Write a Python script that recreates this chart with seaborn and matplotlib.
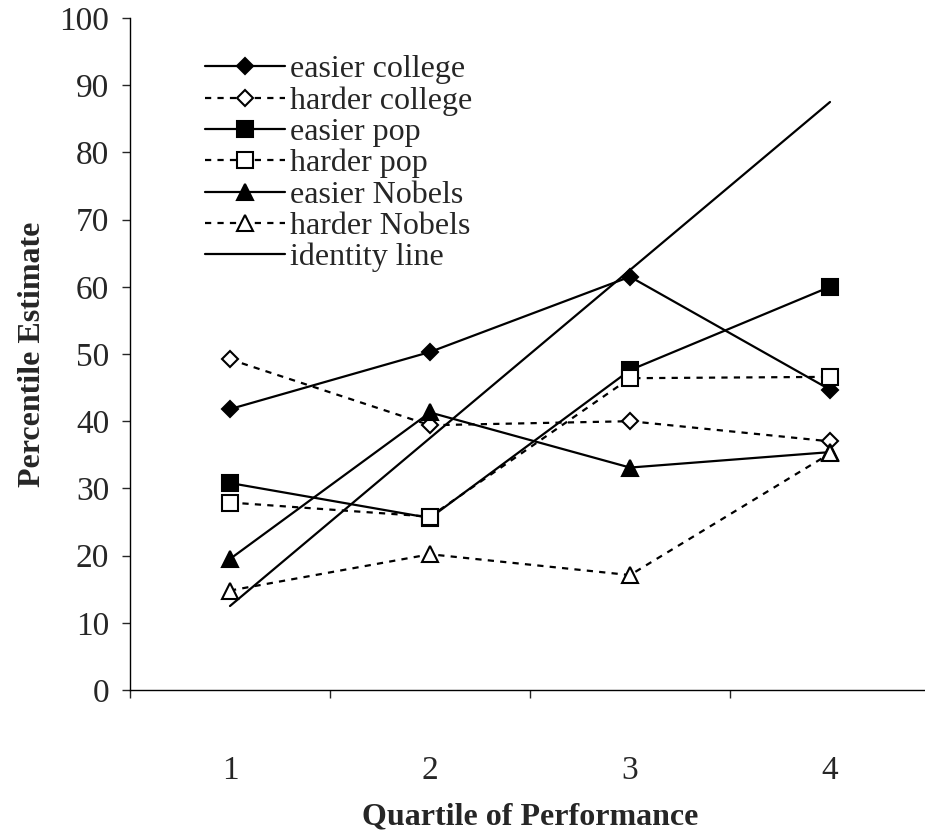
"""
Percentile estimate by quartile of performance - line chart
"""
import pandas as pd
import matplotlib.pyplot as plt
import seaborn as sns

# data
quartiles = [1, 2, 3, 4]
easier_college = [41.8, 50.3, 61.5, 44.7]
harder_college = [49.2, 39.4, 40.0, 37.0]
easier_pop = [30.8, 25.6, 47.6, 60.0]
harder_pop = [27.9, 25.8, 46.4, 46.6]
easier_nobels = [19.5, 41.3, 33.1, 35.4]
harder_nobels = [14.8, 20.2, 17.1, 35.2]
identity_line = [12.5, 37.5, 62.5, 87.5]

series = [
    ('easier college', easier_college),
    ('harder college', harder_college),
    ('easier pop', easier_pop),
    ('harder pop', harder_pop),
    ('easier Nobels', easier_nobels),
    ('harder Nobels', harder_nobels),
    ('identity line', identity_line),
]

sns.set_style('white')
plt.rcParams['font.family'] = ['Liberation Serif', 'DejaVu Serif']
plt.rcParams['font.size'] = 23

# style per series: (marker, markersize, filled, dashed)
styles = {
    'easier college': ('D', 8, True, False),
    'harder college': ('D', 8, False, True),
    'easier pop': ('s', 11, True, False),
    'harder pop': ('s', 11, False, True),
    'easier Nobels': ('^', 11, True, False),
    'harder Nobels': ('^', 11, False, True),
    'identity line': (None, 0, True, False),
}

fig = plt.figure(figsize=(9.25, 8.35), dpi=100)
ax = fig.add_axes([130 / 925, 145 / 835, 800 / 925, 672 / 835])

for name, vals in series:
    marker, ms, filled, dashed = styles[name]
    df = pd.DataFrame({'q': quartiles, 'v': vals})
    sns.lineplot(
        data=df, x='q', y='v', ax=ax, color='black', linewidth=1.6,
        marker=marker, markersize=ms,
        markerfacecolor='black' if filled else 'white',
        markeredgecolor='black', markeredgewidth=1.5,
        linestyle=(0, (2.8, 2.8)) if dashed else '-',
        label=name,
    )

ax.set_xlim(0.5, 4.5)
ax.set_ylim(0, 100)
ax.set_yticks(range(0, 101, 10))
ax.set_xticks(quartiles)
ax.set_xticks([0.5, 1.5, 2.5, 3.5, 4.5], minor=True)
ax.tick_params(axis='x', which='major', length=0, pad=47, labelsize=24)
ax.tick_params(axis='x', which='minor', length=6, width=1, direction='out', bottom=True)
ax.tick_params(axis='y', length=6, width=1, direction='out', left=True, pad=9, labelsize=24)

for side in ['top', 'right']:
    ax.spines[side].set_visible(False)
for side in ['left', 'bottom']:
    ax.spines[side].set_color('black')
    ax.spines[side].set_linewidth(1.0)

ax.set_xlabel('Quartile of Performance', fontsize=23, fontweight='bold', va='top')
ax.xaxis.set_label_coords(0.5, -0.168)
ax.set_ylabel('Percentile Estimate', fontsize=23, fontweight='bold')
ax.yaxis.set_label_coords(-0.104, 0.5)

leg = ax.legend(
    loc='upper left', bbox_to_anchor=(0.094, 0.945), frameon=False,
    handlelength=2.5, handletextpad=0.15, labelspacing=0.06,
    borderpad=0, borderaxespad=0, fontsize=23,
)

plt.savefig('out.png', dpi=100)
